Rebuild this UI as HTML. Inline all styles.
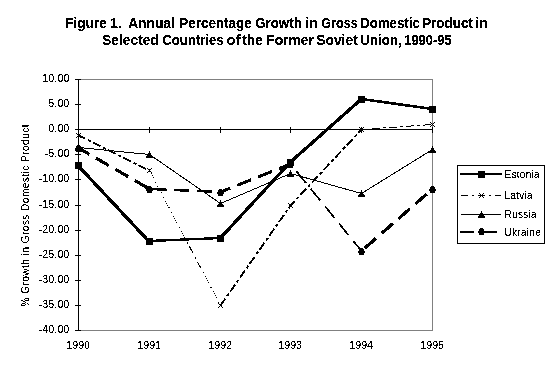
<!DOCTYPE html>
<html><head><meta charset="utf-8"><style>
html,body{margin:0;padding:0;background:#fff;width:553px;height:371px;overflow:hidden}
svg{display:block}
.s{font-family:"Liberation Sans",sans-serif;font-size:10px;fill:#000}
.t{font-family:"Liberation Sans",sans-serif;font-size:14px;font-weight:bold;fill:#000}
</style></head><body>
<svg width="553" height="371" viewBox="0 0 553 371">
<defs><filter id="th" x="0" y="0" width="100%" height="100%" color-interpolation-filters="sRGB">
<feComponentTransfer><feFuncA type="discrete" tableValues="0 0 1 1 1"/></feComponentTransfer></filter>
<filter id="th2" x="0" y="0" width="100%" height="100%" color-interpolation-filters="sRGB">
<feComponentTransfer><feFuncA type="discrete" tableValues="0 1"/></feComponentTransfer></filter></defs>
<rect width="553" height="371" fill="#fff"/>
<g shape-rendering="crispEdges">
<path d="M78.5 79.5H432.5V330.5H78.5" stroke="#808080" stroke-width="1" fill="none"/>
<path d="M78.5 79V331" stroke="#000" stroke-width="1" fill="none"/>
<path d="M75 79.5H81" stroke="#000" stroke-width="1"/>
<path d="M75 104.5H81" stroke="#000" stroke-width="1"/>
<path d="M75 129.5H81" stroke="#000" stroke-width="1"/>
<path d="M75 154.5H81" stroke="#000" stroke-width="1"/>
<path d="M75 179.5H81" stroke="#000" stroke-width="1"/>
<path d="M75 205.5H81" stroke="#000" stroke-width="1"/>
<path d="M75 230.5H81" stroke="#000" stroke-width="1"/>
<path d="M75 255.5H81" stroke="#000" stroke-width="1"/>
<path d="M75 280.5H81" stroke="#000" stroke-width="1"/>
<path d="M75 305.5H81" stroke="#000" stroke-width="1"/>
<path d="M75 330.5H81" stroke="#000" stroke-width="1"/>
<path d="M78 129.5H433" stroke="#000" stroke-width="1"/>
<path d="M78.5 127V133" stroke="#000" stroke-width="1"/>
<path d="M149.5 127V133" stroke="#000" stroke-width="1"/>
<path d="M220.5 127V133" stroke="#000" stroke-width="1"/>
<path d="M290.5 127V133" stroke="#000" stroke-width="1"/>
<path d="M361.5 127V133" stroke="#000" stroke-width="1"/>
<path d="M432.5 127V133" stroke="#000" stroke-width="1"/>
</g>
<g shape-rendering="crispEdges" fill="none" stroke="#000">
<polyline points="78.5,147.5 149.5,154.5 220.5,203.5 290.5,173.5 361.5,193.5 432.5,149.5" stroke-width="1"/>
<path d="M78.5 148 L149.5 189" stroke-width="3.142" stroke-dasharray="15 7.5" stroke-dashoffset="2.5"/>
<path d="M149.5 189 L220.5 192" stroke-width="2.395" stroke-dasharray="15 7.5" stroke-dashoffset="20"/>
<path d="M220.5 192 L290.5 164" stroke-width="2.99" stroke-dasharray="15 7.5" stroke-dashoffset="4.5"/>
<path d="M290.5 164 L361.5 251" stroke-width="1.7" stroke-dasharray="15 7.5" stroke-dashoffset="13"/>
<path d="M361.5 251 L432.5 189" stroke-width="3.245" stroke-dasharray="15 7.5" stroke-dashoffset="18.3"/>
<path d="M78.5 135.5 L149.5 170.5" stroke-width="1.808" stroke-dasharray="8.5 3 3 2.5" stroke-dashoffset="1"/>
<path clip-path="url(#lv1a)" d="M149.5 170.5 L220.5 305.5" stroke-width="1" stroke-dasharray="1.13 1.13 1.13 1.13 1.13 1.13 1.13 4.519 1.13 3.39" stroke-dashoffset="-0.565"/>
<path clip-path="url(#lv1b)" d="M149.5 170.5 L220.5 305.5" stroke-width="1" stroke-dasharray="7.344 5.084 1.695 2.938" stroke-dashoffset="-0.565"/>
<path d="M220.5 305.5 L290.5 205.5" stroke-width="1.88" stroke-dasharray="8.5 3 3 2.5" stroke-dashoffset="0"/>
<path d="M290.5 205.5 L361.5 129.5" stroke-width="1.9" stroke-dasharray="8.5 3 3 2.5" stroke-dashoffset="2.5"/>
<path d="M361.5 129.5 L432.5 124.5" stroke-width="1" stroke-dasharray="8.5 3 3 2.5" stroke-dashoffset="6.5"/>
<clipPath id="lv1a"><rect x="140" y="160" width="100" height="80"/><rect x="140" y="270" width="100" height="40"/></clipPath>
<clipPath id="lv1b"><rect x="140" y="240" width="100" height="30"/></clipPath>
<path d="M77.5 165 L148.5 241" stroke-width="3.251"/>
<path d="M149.5 241 L220.5 238" stroke-width="2.395"/>
<path d="M220.5 238 L290.5 162" stroke-width="3.25"/>
<path d="M290.5 162 L361.5 99" stroke-width="3.247"/>
<path d="M361.5 99 L432.5 109" stroke-width="2.598"/>
</g>
<g shape-rendering="crispEdges">
<path d="M78 144h1v1h-1zM78 145h1v1h-1zM77 146h3v1h-3zM77 147h3v1h-3zM76 148h5v1h-5zM75 149h7v1h-7zM75 150h7v1h-7z" fill="#000"/>
<path d="M149 151h1v1h-1zM149 152h1v1h-1zM148 153h3v1h-3zM148 154h3v1h-3zM147 155h5v1h-5zM146 156h7v1h-7zM146 157h7v1h-7z" fill="#000"/>
<path d="M220 200h1v1h-1zM220 201h1v1h-1zM219 202h3v1h-3zM219 203h3v1h-3zM218 204h5v1h-5zM217 205h7v1h-7zM217 206h7v1h-7z" fill="#000"/>
<path d="M290 170h1v1h-1zM290 171h1v1h-1zM289 172h3v1h-3zM289 173h3v1h-3zM288 174h5v1h-5zM287 175h7v1h-7zM287 176h7v1h-7z" fill="#000"/>
<path d="M361 190h1v1h-1zM361 191h1v1h-1zM360 192h3v1h-3zM360 193h3v1h-3zM359 194h5v1h-5zM358 195h7v1h-7zM358 196h7v1h-7z" fill="#000"/>
<path d="M432 146h1v1h-1zM432 147h1v1h-1zM431 148h3v1h-3zM431 149h3v1h-3zM430 150h5v1h-5zM429 151h7v1h-7zM429 152h7v1h-7z" fill="#000"/>
<path d="M76 133h1v1h-1zM76 137h1v1h-1zM77 134h1v1h-1zM77 136h1v1h-1zM78 135h1v1h-1zM79 136h1v1h-1zM79 134h1v1h-1zM80 137h1v1h-1zM80 133h1v1h-1z" fill="#000"/>
<path d="M147 168h1v1h-1zM147 172h1v1h-1zM148 169h1v1h-1zM148 171h1v1h-1zM149 170h1v1h-1zM150 171h1v1h-1zM150 169h1v1h-1zM151 172h1v1h-1zM151 168h1v1h-1z" fill="#000"/>
<path d="M218 303h1v1h-1zM218 307h1v1h-1zM219 304h1v1h-1zM219 306h1v1h-1zM220 305h1v1h-1zM221 306h1v1h-1zM221 304h1v1h-1zM222 307h1v1h-1zM222 303h1v1h-1z" fill="#000"/>
<path d="M288 203h1v1h-1zM288 207h1v1h-1zM289 204h1v1h-1zM289 206h1v1h-1zM290 205h1v1h-1zM291 206h1v1h-1zM291 204h1v1h-1zM292 207h1v1h-1zM292 203h1v1h-1z" fill="#000"/>
<path d="M359 127h1v1h-1zM359 131h1v1h-1zM360 128h1v1h-1zM360 130h1v1h-1zM361 129h1v1h-1zM362 130h1v1h-1zM362 128h1v1h-1zM363 131h1v1h-1zM363 127h1v1h-1z" fill="#000"/>
<path d="M430 122h1v1h-1zM430 126h1v1h-1zM431 123h1v1h-1zM431 125h1v1h-1zM432 124h1v1h-1zM433 125h1v1h-1zM433 123h1v1h-1zM434 126h1v1h-1zM434 122h1v1h-1z" fill="#000"/>
<path d="M77 145h3v1h-3zM76 146h5v1h-5zM76 147h5v1h-5zM75 148h7v1h-7zM75 149h7v1h-7zM76 150h5v1h-5zM76 151h5v1h-5z" fill="#000"/>
<path d="M148 186h3v1h-3zM147 187h5v1h-5zM147 188h5v1h-5zM146 189h7v1h-7zM146 190h7v1h-7zM147 191h5v1h-5zM147 192h5v1h-5z" fill="#000"/>
<path d="M219 189h3v1h-3zM218 190h5v1h-5zM218 191h5v1h-5zM217 192h7v1h-7zM217 193h7v1h-7zM218 194h5v1h-5zM218 195h5v1h-5z" fill="#000"/>
<path d="M289 161h3v1h-3zM288 162h5v1h-5zM288 163h5v1h-5zM287 164h7v1h-7zM287 165h7v1h-7zM288 166h5v1h-5zM288 167h5v1h-5z" fill="#000"/>
<path d="M360 248h3v1h-3zM359 249h5v1h-5zM359 250h5v1h-5zM358 251h7v1h-7zM358 252h7v1h-7zM359 253h5v1h-5zM359 254h5v1h-5z" fill="#000"/>
<path d="M431 186h3v1h-3zM430 187h5v1h-5zM430 188h5v1h-5zM429 189h7v1h-7zM429 190h7v1h-7zM430 191h5v1h-5zM430 192h5v1h-5z" fill="#000"/>
<rect x="75" y="162" width="7" height="7" fill="#000"/>
<rect x="146" y="238" width="7" height="7" fill="#000"/>
<rect x="217" y="235" width="7" height="7" fill="#000"/>
<rect x="287" y="159" width="7" height="7" fill="#000"/>
<rect x="358" y="96" width="7" height="7" fill="#000"/>
<rect x="429" y="106" width="7" height="7" fill="#000"/>
<rect x="457.5" y="165.5" width="87" height="78" stroke="#000" stroke-width="1" fill="#fff"/>
<path d="M460 174H502" stroke="#000" stroke-width="2"/>
<rect x="478" y="171" width="7" height="7" fill="#000"/>
<path d="M461 195.5H501" stroke="#000" stroke-width="1" stroke-dasharray="7 4 2 4"/>
<path d="M479 193h1v1h-1zM479 197h1v1h-1zM480 194h1v1h-1zM480 196h1v1h-1zM481 195h1v1h-1zM482 196h1v1h-1zM482 194h1v1h-1zM483 197h1v1h-1zM483 193h1v1h-1z" fill="#000"/>
<path d="M461 214.5H501" stroke="#000" stroke-width="1"/>
<path d="M481 211h1v1h-1zM481 212h1v1h-1zM480 213h3v1h-3zM480 214h3v1h-3zM479 215h5v1h-5zM478 216h7v1h-7zM478 217h7v1h-7z" fill="#000"/>
<path d="M460 232H474M478 232H497" stroke="#000" stroke-width="2"/>
<path d="M480 228h3v1h-3zM479 229h5v1h-5zM479 230h5v1h-5zM478 231h7v1h-7zM478 232h7v1h-7zM479 233h5v1h-5zM479 234h5v1h-5z" fill="#000"/>
</g>
<g filter="url(#th)">
<text x="69.6" y="82" text-anchor="end" class="s" letter-spacing="0.4">10.00</text>
<text x="69.6" y="107" text-anchor="end" class="s" letter-spacing="0.4">5.00</text>
<text x="69.6" y="132" text-anchor="end" class="s" letter-spacing="0.4">0.00</text>
<text x="69.6" y="157" text-anchor="end" class="s" letter-spacing="0.4">-5.00</text>
<text x="69.6" y="182" text-anchor="end" class="s" letter-spacing="0.4">-10.00</text>
<text x="69.6" y="208" text-anchor="end" class="s" letter-spacing="0.4">-15.00</text>
<text x="69.6" y="233" text-anchor="end" class="s" letter-spacing="0.4">-20.00</text>
<text x="69.6" y="258" text-anchor="end" class="s" letter-spacing="0.4">-25.00</text>
<text x="69.6" y="283" text-anchor="end" class="s" letter-spacing="0.4">-30.00</text>
<text x="69.6" y="308" text-anchor="end" class="s" letter-spacing="0.4">-35.00</text>
<text x="69.6" y="333" text-anchor="end" class="s" letter-spacing="0.4">-40.00</text>
<text x="78.4" y="349" text-anchor="middle" class="s" letter-spacing="0.4">1990</text>
<text x="149.4" y="349" text-anchor="middle" class="s" letter-spacing="0.4">1991</text>
<text x="220.4" y="349" text-anchor="middle" class="s" letter-spacing="0.4">1992</text>
<text x="290.4" y="349" text-anchor="middle" class="s" letter-spacing="0.4">1993</text>
<text x="361.4" y="349" text-anchor="middle" class="s" letter-spacing="0.4">1994</text>
<text x="432.4" y="349" text-anchor="middle" class="s" letter-spacing="0.4">1995</text>
<text transform="translate(28.5,215.5) rotate(-90)" text-anchor="middle" class="s" textLength="182" lengthAdjust="spacing">% Growth in Gross Domestic Product</text>
<text x="504.5" y="178" class="s" letter-spacing="0.3">Estonia</text>
<text x="504.5" y="199" class="s" letter-spacing="0.3">Latvia</text>
<text x="504.5" y="218" class="s" letter-spacing="0.3">Russia</text>
<text x="504.5" y="236" class="s" letter-spacing="0.3">Ukraine</text>
</g>
<g filter="url(#th)">
<text x="65.2" y="28" class="t" textLength="41.6" lengthAdjust="spacingAndGlyphs">Figure</text>
<text x="110.2" y="28" class="t" textLength="11.6" lengthAdjust="spacingAndGlyphs">1.</text>
<text x="128.2" y="28" class="t" textLength="46.6" lengthAdjust="spacingAndGlyphs">Annual</text>
<text x="179.2" y="28" class="t" textLength="72.6" lengthAdjust="spacingAndGlyphs">Percentage</text>
<text x="255.2" y="28" class="t" textLength="46.6" lengthAdjust="spacingAndGlyphs">Growth</text>
<text x="305.2" y="28" class="t" textLength="12.6" lengthAdjust="spacingAndGlyphs">in</text>
<text x="321.2" y="28" class="t" textLength="36.6" lengthAdjust="spacingAndGlyphs">Gross</text>
<text x="360.2" y="28" class="t" textLength="59.6" lengthAdjust="spacingAndGlyphs">Domestic</text>
<text x="422.2" y="28" class="t" textLength="50.6" lengthAdjust="spacingAndGlyphs">Product</text>
<text x="475.2" y="28" class="t" textLength="12.6" lengthAdjust="spacingAndGlyphs">in</text>
<text x="102.2" y="45" class="t" textLength="56.6" lengthAdjust="spacingAndGlyphs">Selected</text>
<text x="162.2" y="45" class="t" textLength="61.6" lengthAdjust="spacingAndGlyphs">Countries</text>
<text x="226.2" y="45" class="t" textLength="14.6" lengthAdjust="spacingAndGlyphs">of</text>
<text x="242.2" y="45" class="t" textLength="20.6" lengthAdjust="spacingAndGlyphs">the</text>
<text x="266.2" y="45" class="t" textLength="47.6" lengthAdjust="spacingAndGlyphs">Former</text>
<text x="316.2" y="45" class="t" textLength="41.6" lengthAdjust="spacingAndGlyphs">Soviet</text>
<text x="360.2" y="45" class="t" textLength="41.6" lengthAdjust="spacingAndGlyphs">Union,</text>
<text x="404.2" y="45" class="t" textLength="47.6" lengthAdjust="spacingAndGlyphs">1990-95</text>
</g>
</svg>
</body></html>
